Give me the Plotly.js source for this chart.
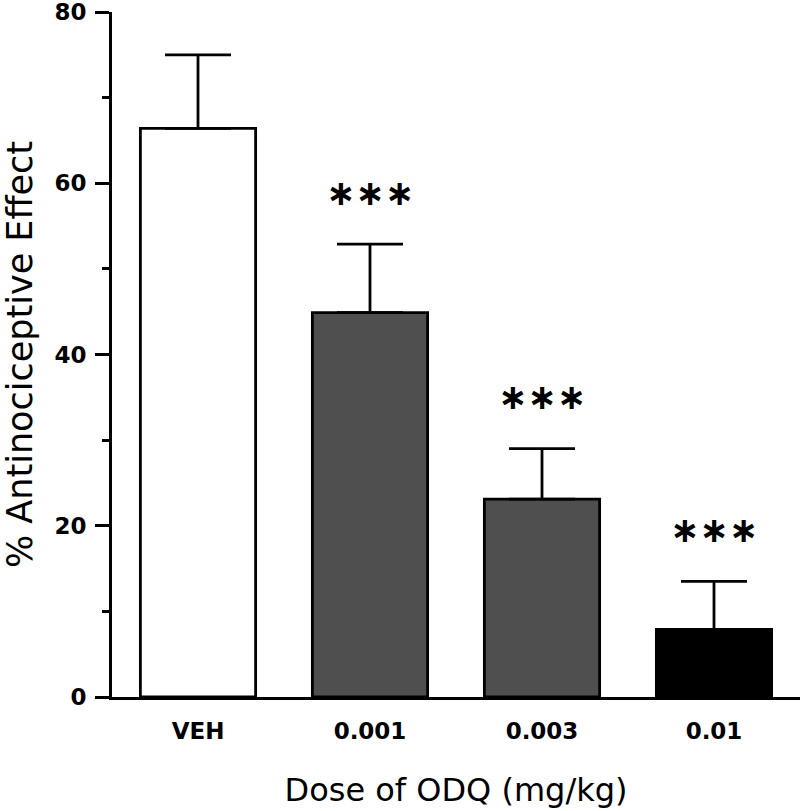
<!DOCTYPE html>
<html>
<head>
<meta charset="utf-8">
<script src="https://cdn.plot.ly/plotly-3.0.1.min.js"></script>
<style>
  html, body { margin: 0; padding: 0; background: #ffffff; }
  #chart { width: 800px; height: 811px; }
</style>
</head>
<body>
<div id="chart"></div>
<script>
// ---- data ----
const doseLabels = ["VEH", "0.001", "0.003", "0.01"];
const meanEffect = [66.4, 44.9, 23.1, 7.9];
const semEffect  = [8.6, 8.0, 5.9, 5.6];
const significance = ["", "\u2217\u2217\u2217", "\u2217\u2217\u2217", "\u2217\u2217\u2217"];
const barColors = ["#ffffff", "#4f4f4f", "#4f4f4f", "#000000"];

const xPos = doseLabels.map((_, i) => i);

const trace = {
  type: "bar",
  x: xPos,
  y: meanEffect,
  width: 0.67,
  marker: { color: barColors, line: { color: "#000000", width: 2.8 } },
  error_y: {
    type: "data",
    symmetric: false,
    array: semEffect,
    arrayminus: semEffect.map(() => 0),
    color: "#000000",
    thickness: 2.8,
    width: 33
  },
  hoverinfo: "skip"
};

const annotations = significance.map((s, i) => ({
  x: xPos[i],
  y: meanEffect[i] + semEffect[i] + 6,
  xref: "x", yref: "y",
  text: s,
  showarrow: false,
  xanchor: "center",
  yanchor: "middle",
  font: { family: "DejaVu Sans", size: 35, color: "#000000", weight: "bold" }
})).filter(a => a.text !== "");

const layout = {
  width: 800,
  height: 811,
  margin: { l: 112, r: 0, t: 12, b: 114 },
  paper_bgcolor: "#ffffff",
  plot_bgcolor: "#ffffff",
  showlegend: false,
  bargap: 0,
  xaxis: {
    range: [-0.5, 3.5],
    tickvals: xPos,
    ticktext: doseLabels,
    showline: true,
    linecolor: "#000000",
    linewidth: 3,
    ticks: "",
    showgrid: false,
    zeroline: false,
    ticklabelstandoff: 11,
    ticklabeloverflow: "allow",
    tickfont: { family: "DejaVu Sans", size: 23, color: "#000000", weight: "bold" },
    title: {
      text: "Dose of ODQ (mg/kg)",
      font: { family: "DejaVu Sans", size: 32, color: "#000000" },
      standoff: 37
    },
    automargin: false,
    fixedrange: true
  },
  yaxis: {
    range: [0, 80.001],
    tickmode: "linear",
    tick0: 0,
    dtick: 20,
    showline: true,
    linecolor: "#000000",
    linewidth: 3,
    ticks: "outside",
    ticklen: 14,
    tickwidth: 3,
    tickcolor: "#000000",
    minor: { dtick: 10, tick0: 0, ticks: "outside", ticklen: 7, tickwidth: 3, tickcolor: "#000000", showgrid: false },
    showgrid: false,
    zeroline: false,
    ticklabelstandoff: 4,
    ticklabeloverflow: "allow",
    tickfont: { family: "DejaVu Sans", size: 23, color: "#000000", weight: "bold" },
    title: {
      text: "% Antinociceptive Effect",
      font: { family: "DejaVu Sans", size: 35, color: "#000000" },
      standoff: 17
    },
    automargin: false,
    fixedrange: true
  },
  annotations: annotations
};

Plotly.newPlot("chart", [trace], layout, { displayModeBar: false, staticPlot: true });
</script>
</body>
</html>
